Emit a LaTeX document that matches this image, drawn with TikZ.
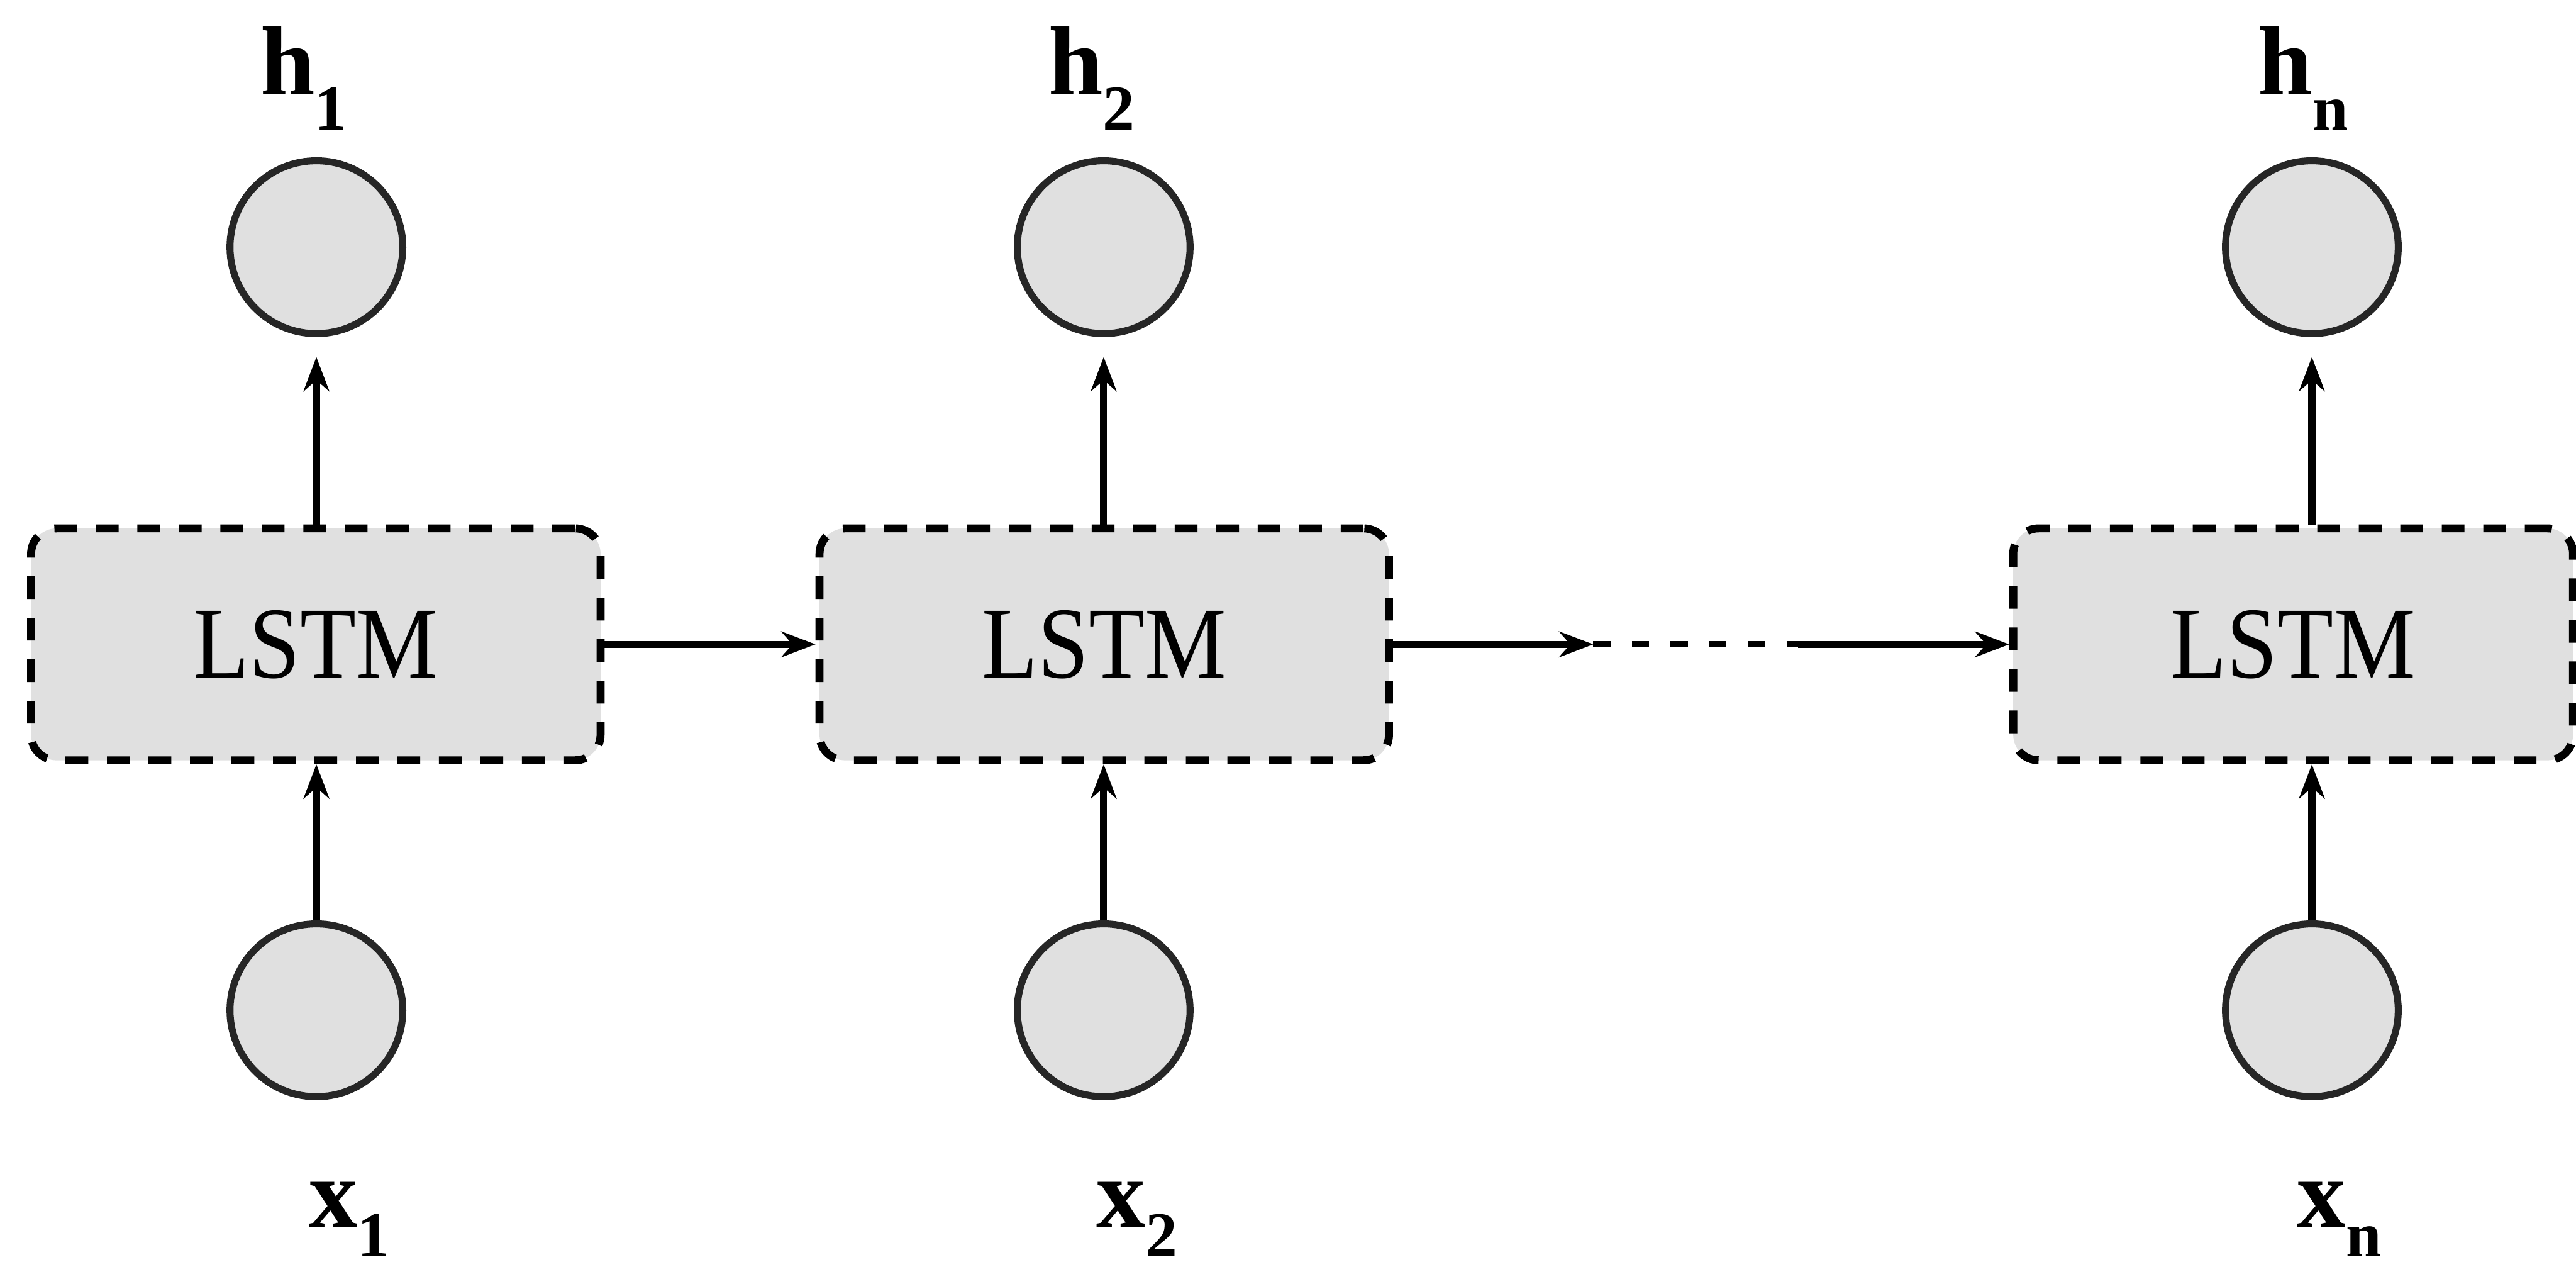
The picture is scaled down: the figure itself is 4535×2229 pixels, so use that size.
\documentclass[tikz,border=0pt]{standalone}
\usepackage{fontspec}
\setmainfont{Liberation Serif}
\usetikzlibrary{arrows.meta}
\tikzset{
  lstmbox/.style={draw=black, line width=4pt, dash pattern=on 0.4cm off 0.33cm,
    fill=black!12, rounded corners=0.45cm, minimum width=10.02cm,
    minimum height=4.08cm, inner sep=0pt, font=\fontsize{51}{56}\selectfont},
  unitnode/.style={circle, draw=black!85, line width=3.5pt, fill=black!12,
    minimum size=3.04cm, inner sep=0pt},
  conn/.style={line width=3.5pt, -{Stealth[length=0.6cm,width=0.45cm]}},
  lbl/.style={anchor=base west, inner sep=0pt, font=\fontsize{49}{54}\selectfont\bfseries},
}
\newcommand\subtxt[1]{\raisebox{-0.62cm}{\fontsize{32}{36}\selectfont #1}}
\newcommand\subtxtlow[1]{\raisebox{-0.52cm}{\fontsize{32}{36}\selectfont #1}}
\begin{document}
\begin{tikzpicture}[x=0.01cm, y=-0.01cm]
\useasboundingbox (0,0) rectangle (4535,2229);
\clip (0,0) rectangle (4535,2229);
% LSTM boxes
\node[lstmbox] (b1) at (556,1134) {\scalebox{0.9}[1]{LSTM}};
\node[lstmbox] (b2) at (1944,1134) {\scalebox{0.9}[1]{LSTM}};
\node[lstmbox, minimum width=9.85cm] (b3) at (4037,1134) {\scalebox{0.9}[1]{LSTM}};
% output circles
\node[unitnode] (t1) at (557,435) {};
\node[unitnode] (t2) at (1943,435) {};
\node[unitnode] (t3) at (4070,435) {};
% input circles
\node[unitnode] (i1) at (557,1778) {};
\node[unitnode] (i2) at (1943,1778) {};
\node[unitnode] (i3) at (4070,1778) {};
% vertical connectors
\draw[conn, shorten >=0.35cm] (t1 |- b1.north) -- (t1.south);
\draw[conn, shorten >=0.35cm] (t2 |- b2.north) -- (t2.south);
\draw[conn, shorten >=0.35cm] (t3 |- b3.north) -- (t3.south);
\draw[conn] (i1.north) -- (i1 |- b1.south);
\draw[conn] (i2.north) -- (i2 |- b2.south);
\draw[conn] (i3.north) -- (i3 |- b3.south);
% horizontal connectors
\coordinate (m1) at (2805,1134);
\coordinate (m2) at (3165,1134);
\draw[conn] (b1.east) -- (b2.west);
\draw[conn] (b2.east) -- (m1);
\draw[line width=3pt, dash pattern=on 0.3cm off 0.38cm] (m1) -- (m2);
\draw[conn] (m2) -- (b3.west);
% labels
\node[lbl] (h1) at (458,167) {h\subtxt{1}};
\node[lbl] (h2) at (1845,167) {h\subtxt{2}};
\node[lbl] (hn) at (3975,167) {h\subtxt{n}};
\node[lbl] (x1) at (543,2160) {x\subtxtlow{1}};
\node[lbl] (x2) at (1930,2160) {x\subtxtlow{2}};
\node[lbl] (xn) at (4043,2160) {x\subtxtlow{n}};
\end{tikzpicture}
\end{document}
